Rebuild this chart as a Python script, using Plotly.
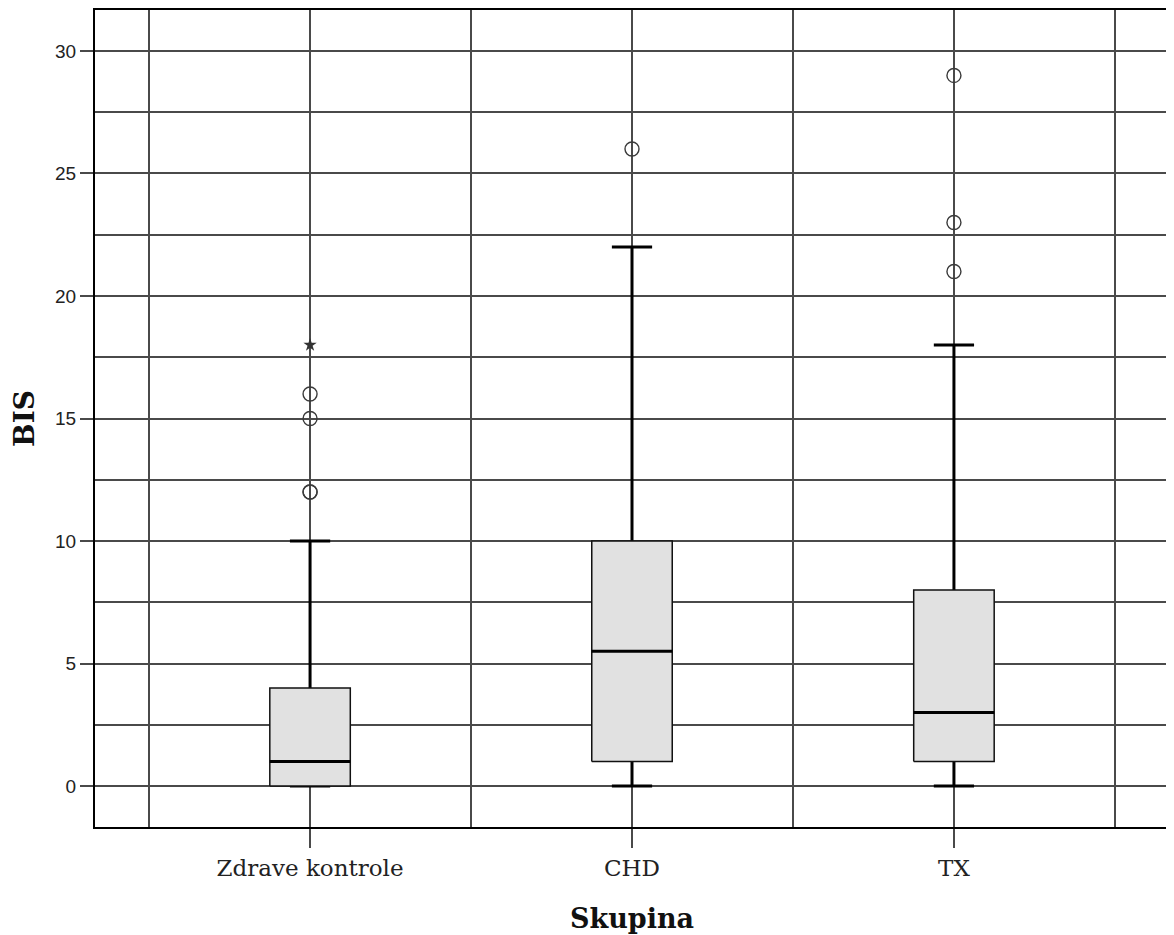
import plotly.graph_objects as go

# SPSS-style boxplot of BIS by group
groups = ["Zdrave kontrole", "CHD", "TX"]
q1 = [0, 1, 1]
median = [1, 5.5, 3]
q3 = [4, 10, 8]
whisker_low = [0, 0, 0]
whisker_high = [10, 22, 18]
outliers = [[12, 12, 15, 16], [26], [21, 23, 29]]
extremes = [[18], [], []]

pos = list(range(len(groups)))
hw = 0.125   # half box width
cw = 0.0625  # half cap width

box_x, box_y = [], []
med_x, med_y = [], []
wh_x, wh_y = [], []
cap_x, cap_y = [], []
out_x, out_y = [], []
ext_x, ext_y = [], []
for i in pos:
    box_x += [i - hw, i + hw, i + hw, i - hw, i - hw, None]
    box_y += [q1[i], q1[i], q3[i], q3[i], q1[i], None]
    med_x += [i - hw, i + hw, None]
    med_y += [median[i], median[i], None]
    wh_x += [i, i, None, i, i, None]
    wh_y += [q3[i], whisker_high[i], None, q1[i], whisker_low[i], None]
    cap_x += [i - cw, i + cw, None, i - cw, i + cw, None]
    cap_y += [whisker_high[i], whisker_high[i], None, whisker_low[i], whisker_low[i], None]
    out_x += [i] * len(outliers[i])
    out_y += outliers[i]
    ext_x += [i] * len(extremes[i])
    ext_y += extremes[i]

fig = go.Figure()
fig.add_trace(go.Scatter(x=wh_x, y=wh_y, mode="lines",
                         line=dict(color="black", width=3), hoverinfo="skip"))
fig.add_trace(go.Scatter(x=cap_x, y=cap_y, mode="lines",
                         line=dict(color="black", width=3), hoverinfo="skip"))
fig.add_trace(go.Scatter(x=box_x, y=box_y, mode="lines", fill="toself",
                         fillcolor="#e1e1e1", line=dict(color="#111", width=1.5)))
fig.add_trace(go.Scatter(x=med_x, y=med_y, mode="lines",
                         line=dict(color="black", width=3)))
fig.add_trace(go.Scatter(x=out_x, y=out_y, mode="markers",
                         marker=dict(symbol="circle-open", size=14, color="#3a3a3a",
                                     line=dict(width=1.4))))
fig.add_trace(go.Scatter(x=ext_x, y=ext_y, mode="markers",
                         marker=dict(symbol="star", size=10, color="#333")))

grid = "#4a4a4a"
# page body has an 8px margin, so the figure is sized to fit the window
fig.update_layout(
    width=1166, height=927,
    paper_bgcolor="white", plot_bgcolor="white",
    showlegend=False,
    margin=dict(l=87, r=5, t=2, b=108),
    xaxis=dict(
        range=[-0.668, 2.668],
        tickvals=pos, ticktext=groups,
        showgrid=True, gridcolor=grid, gridwidth=1.5,
        minor=dict(tickvals=[-0.5, 0.5, 1.5, 2.5], showgrid=True,
                   gridcolor=grid, gridwidth=1.5, ticks=""),
        ticks="outside", ticklen=19, tickcolor=grid, tickwidth=1.5,
        showline=True, mirror=True, linecolor="black", linewidth=2,
        zeroline=False, automargin=False,
        tickfont=dict(family="DejaVu Serif", size=23, color="#222"),
        title=dict(text="<b>Skupina</b>", standoff=30,
                   font=dict(family="DejaVu Serif", size=27, color="#111")),
    ),
    yaxis=dict(
        range=[-1.67, 31.67],
        tickvals=[0, 5, 10, 15, 20, 25, 30],
        showgrid=True, gridcolor=grid, gridwidth=1.5,
        minor=dict(dtick=2.5, tick0=0, showgrid=True,
                   gridcolor=grid, gridwidth=1.5, ticks=""),
        ticks="outside", ticklen=13, tickcolor=grid, tickwidth=1.5,
        showline=True, mirror=True, linecolor="black", linewidth=2,
        zeroline=False, automargin=False,
        tickfont=dict(family="Liberation Sans", size=19, color="#222"),
        title=dict(text="<b>BIS</b>", standoff=15,
                   font=dict(family="DejaVu Serif", size=28, color="#111")),
    ),
)

fig.write_html("out.html")
